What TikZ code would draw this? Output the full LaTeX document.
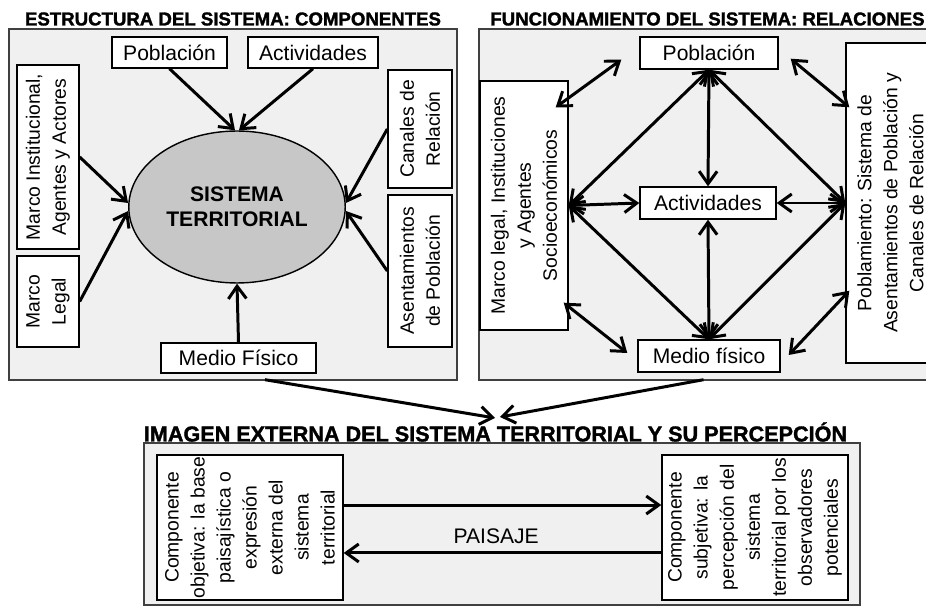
\documentclass[tikz,border=0pt]{standalone}
\usepackage{fontspec}
\setmainfont{Liberation Sans}
\setsansfont{Liberation Sans}
\newfontfamily\headfont{Liberation Sans}[BoldFeatures={FakeBold=1.6}]
\usetikzlibrary{positioning, fit, arrows.meta, calc, shapes.geometric}

\begin{document}
\begin{tikzpicture}[
    x=0.02cm, y=-0.02cm,
    font=\fontsize{12}{14}\selectfont,
    >={Straight Barb[length=2.5mm, width=3.6mm]},
    % Styles
    panel/.style={
        draw=black!75, fill=black!6, line width=0.8pt, inner sep=0pt
    },
    box/.style={
        draw, fill=white, line width=0.8pt, inner sep=0pt
    },
    vtext/.style={rotate=90, align=center, font=\fontsize{11}{14.8}\selectfont},
    heading/.style={font=\headfont\bfseries\fontsize{10.6}{12}\selectfont, inner sep=0pt},
    arrow/.style={->, line width=1.7pt},
    biarrow/.style={<->, line width=1.7pt}
]
    \useasboundingbox (0,0) rectangle (926,607);
    \clip (0,0) rectangle (926,607);

    % --- ESTRUCTURA: COMPONENTES ---
    \node[heading] (head1) at (233,19) {ESTRUCTURA DEL SISTEMA: COMPONENTES};
    \node[panel, fit={(9,29)(457,380)}] (panel1) {};

    \node[box, fit={(112,37)(227,68)}, label=center:Población] (pob1) {};
    \node[box, fit={(248,37)(378,68)}, label=center:Actividades] (act1) {};
    \node[box, fit={(17,65)(79,249)}, label={[vtext]center:{Marco Institucional,\\Agentes y Actores}}] (marcoi) {};
    \node[box, fit={(17,256)(79,347)}, label={[vtext]center:{Marco\\Legal}}] (marcol) {};
    \node[box, fit={(388,70)(452,188)}, label={[vtext]center:{Canales de\\Relación}}] (canal) {};
    \node[box, fit={(388,195)(452,347)}, label={[vtext]center:{Asentamientos\\de Población}}] (asent) {};
    \node[box, fit={(161,343)(316,373)}, label=center:Medio Físico] (medio1) {};

    % Sistema territorial
    \node[ellipse, draw, fill=black!22, line width=0.8pt, minimum width=3.56cm, minimum height=3.04cm,
          align=center, font=\bfseries\fontsize{12}{14.5}\selectfont] (sist) at (237,207) {SISTEMA\\TERRITORIAL};

    \draw[arrow] (pob1.south) -- ($(sist.north)+(-2,0)$);
    \draw[arrow] (act1.south) -- ($(sist.north)+(2,0)$);
    \draw[arrow] (marcoi.east) -- ($(sist.west)+(0,-4)$);
    \draw[arrow] (marcol.east) -- ($(sist.west)+(0,4)$);
    \draw[arrow] (canal.west) -- ($(sist.east)+(0,-4)$);
    \draw[arrow] (asent.west) -- ($(sist.east)+(0,4)$);
    \draw[arrow] (medio1.north) -- (sist.south);

    % --- FUNCIONAMIENTO: RELACIONES ---
    \node[heading, anchor=west] (head2) at (490,19) {FUNCIONAMIENTO DEL SISTEMA: RELACIONES};
    \node[panel, fit={(479,29)(940,380)}] (panel2) {};

    \node[box, fit={(640,37)(778,69)}, label=center:Población] (pob2) {};
    \node[box, fit={(640,187)(776,219)}, label=center:Actividades] (act2) {};
    \node[box, fit={(638,340)(780,372)}, label=center:Medio físico] (med2) {};
    \node[box, fit={(480,81)(568,330)}, label={[vtext]center:{Marco legal, Instituciones\\y Agentes\\Socioeconómicos}}] (marco2) {};
    \node[box, fit={(846,43)(935,363)}, label={[vtext]center:{Poblamiento: Sistema de\\Asentamientos de Población y\\Canales de Relación}}] (pobl2) {};

    \draw[biarrow] (pob2.south) -- (act2.north);
    \draw[biarrow] (act2.south) -- (med2.north);
    \draw[biarrow] (marco2.east) -- (act2.west);
    \draw[biarrow] (act2.east) -- (pobl2.west);
    \draw[biarrow] (marco2.east) -- (pob2.south);
    \draw[biarrow] (marco2.east) -- (med2.north);
    \draw[biarrow] (pobl2.west) -- (pob2.south);
    \draw[biarrow] (pobl2.west) -- (med2.north);

    % corner links
    \coordinate (ulA) at ($(pob2.south west)+(-18,-10)$);
    \coordinate (ulB) at ($(marco2.north east)+(-13,27)$);
    \coordinate (urA) at ($(pob2.south east)+(12,-11)$);
    \coordinate (urB) at ($(pobl2.north west)+(4,65)$);
    \coordinate (llA) at ($(marco2.south east)+(-5,-28)$);
    \coordinate (llB) at ($(med2.west)+(-10,-3)$);
    \coordinate (lrA) at ($(med2.east)+(8,-1)$);
    \coordinate (lrB) at ($(pobl2.south west)+(4,-73)$);
    \draw[biarrow] (ulA) -- (ulB);
    \draw[biarrow] (urA) -- (urB);
    \draw[biarrow] (llA) -- (llB);
    \draw[biarrow] (lrA) -- (lrB);

    % --- IMAGEN EXTERNA ---
    \node[heading, font=\headfont\bfseries\fontsize{12.3}{14}\selectfont] (head3) at (495.5,432) {IMAGEN EXTERNA DEL SISTEMA TERRITORIAL Y SU PERCEPCIÓN};
    \node[panel, fit={(144,443)(860,605)}] (panel3) {};

    \node[box, fit={(157,455)(343,600)}, label={[vtext]center:{Componente\\objetiva: la base\\paisajística o\\expresión\\externa del\\sistema\\territorial}}] (objc) {};
    \node[box, fit={(662,455)(848,600)}, label={[vtext]center:{Componente\\subjetiva: la\\percepción del\\sistema\\territorial por los\\observadores\\potenciales}}] (subj) {};

    \draw[arrow] ([yshift=12.8pt]objc.east) -- ([yshift=12.8pt]subj.west);
    \draw[arrow] ([yshift=-14.5pt]subj.west) -- node[above=1pt, pos=0.52] (paisaje) {PAISAJE} ([yshift=-14.5pt]objc.east);

    % Convergence on the image
    \coordinate (meetL) at (495,418);
    \coordinate (meetR) at (500,417);
    \draw[arrow] ($(panel1.south)+(32,-1)$) -- (meetL);
    \draw[arrow] ($(panel2.south)+(-6,-1)$) -- (meetR);

\end{tikzpicture}
\end{document}
